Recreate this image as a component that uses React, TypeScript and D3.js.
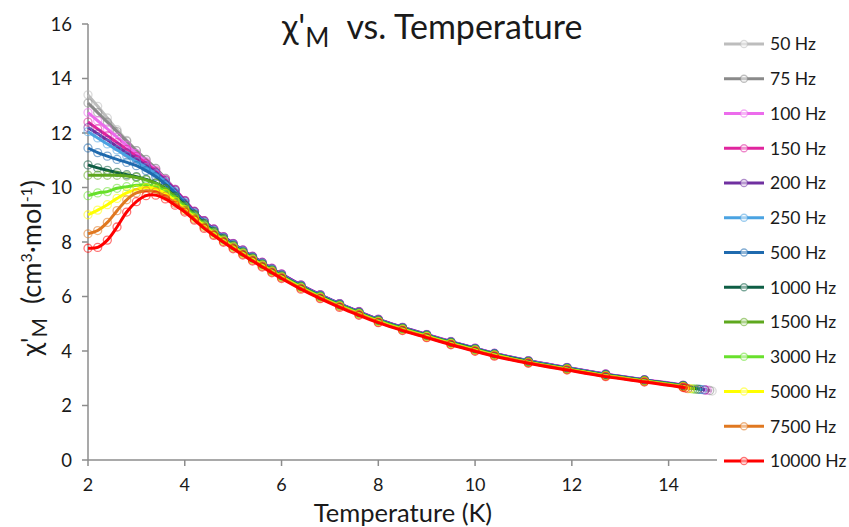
import React from 'react';
import * as d3 from 'd3';

// Temperature (K) sampling shared by all series
const temperatures = [2.0, 2.2, 2.4, 2.6, 2.8, 3.0, 3.2, 3.4, 3.6, 3.8, 4.0, 4.2, 4.4, 4.6, 4.8, 5.0, 5.2, 5.4, 5.6, 5.8, 6.0, 6.4, 6.8, 7.2, 7.6, 8.0, 8.5, 9.0, 9.5, 10.0, 10.4, 11.1, 11.9, 12.7, 13.5, 14.3];

const frequencies = ['50 Hz', '75 Hz', '100 Hz', '150 Hz', '200 Hz', '250 Hz', '500 Hz', '1000 Hz', '1500 Hz', '3000 Hz', '5000 Hz', '7500 Hz', '10000 Hz'];
const colors = ['#BDBDBD', '#8A8A8A', '#EC6CEC', '#E0259E', '#7030A0', '#4AA3E2', '#1F6AAE', '#0E5E45', '#5EA81E', '#68E02C', '#FFFF00', '#E07820', '#FF0000'];

const chi50 = [13.4, 12.98, 12.55, 12.12, 11.73, 11.35, 11.02, 10.7, 10.33, 9.93, 9.52, 9.12, 8.77, 8.46, 8.18, 7.92, 7.68, 7.45, 7.23, 7.01, 6.8, 6.4, 6.04, 5.72, 5.43, 5.15, 4.85, 4.59, 4.33, 4.09, 3.9, 3.63, 3.38, 3.14, 2.93, 2.72];
const chi75 = [13.1, 12.75, 12.4, 12.05, 11.7, 11.35, 11.03, 10.7, 10.33, 9.93, 9.52, 9.12, 8.77, 8.46, 8.18, 7.93, 7.69, 7.46, 7.24, 7.02, 6.81, 6.41, 6.05, 5.73, 5.43, 5.15, 4.86, 4.59, 4.33, 4.09, 3.9, 3.63, 3.38, 3.14, 2.93, 2.73];
const chi100 = [12.75, 12.45, 12.15, 11.85, 11.55, 11.25, 10.95, 10.65, 10.3, 9.93, 9.53, 9.13, 8.78, 8.48, 8.2, 7.95, 7.71, 7.48, 7.26, 7.04, 6.83, 6.43, 6.07, 5.74, 5.45, 5.17, 4.87, 4.61, 4.35, 4.11, 3.92, 3.65, 3.4, 3.16, 2.95, 2.75];
const chi150 = [12.4, 12.15, 11.9, 11.65, 11.4, 11.14, 10.88, 10.6, 10.28, 9.92, 9.52, 9.12, 8.78, 8.47, 8.19, 7.94, 7.7, 7.47, 7.25, 7.03, 6.82, 6.42, 6.06, 5.73, 5.44, 5.16, 4.86, 4.6, 4.34, 4.1, 3.91, 3.64, 3.39, 3.15, 2.94, 2.74];
const chi200 = [12.2, 11.97, 11.74, 11.5, 11.27, 11.04, 10.8, 10.55, 10.25, 9.9, 9.5, 9.11, 8.77, 8.47, 8.19, 7.94, 7.7, 7.47, 7.25, 7.03, 6.82, 6.42, 6.06, 5.74, 5.44, 5.16, 4.87, 4.6, 4.34, 4.1, 3.91, 3.64, 3.39, 3.15, 2.94, 2.74];
const chi250 = [12.05, 11.82, 11.6, 11.38, 11.16, 10.95, 10.73, 10.5, 10.2, 9.85, 9.45, 9.07, 8.73, 8.43, 8.16, 7.91, 7.67, 7.44, 7.22, 7.0, 6.79, 6.4, 6.04, 5.72, 5.42, 5.14, 4.85, 4.59, 4.33, 4.09, 3.9, 3.63, 3.38, 3.14, 2.93, 2.73];
const chi500 = [11.45, 11.28, 11.15, 11.03, 10.92, 10.8, 10.62, 10.4, 10.12, 9.8, 9.42, 9.04, 8.7, 8.41, 8.14, 7.89, 7.65, 7.43, 7.2, 6.98, 6.77, 6.38, 6.02, 5.7, 5.41, 5.13, 4.84, 4.58, 4.32, 4.08, 3.89, 3.62, 3.37, 3.13, 2.93, 2.73];
const chi1000 = [10.83, 10.72, 10.63, 10.55, 10.47, 10.4, 10.3, 10.17, 9.97, 9.68, 9.35, 9.01, 8.68, 8.39, 8.12, 7.87, 7.63, 7.41, 7.19, 6.97, 6.76, 6.37, 6.01, 5.69, 5.4, 5.12, 4.83, 4.57, 4.31, 4.07, 3.88, 3.61, 3.36, 3.12, 2.92, 2.72];
const chi1500 = [10.45, 10.45, 10.45, 10.45, 10.42, 10.37, 10.28, 10.15, 9.95, 9.65, 9.32, 8.99, 8.66, 8.37, 8.11, 7.86, 7.62, 7.4, 7.18, 6.96, 6.75, 6.36, 6.0, 5.68, 5.39, 5.11, 4.82, 4.56, 4.3, 4.06, 3.87, 3.6, 3.35, 3.11, 2.91, 2.71];
const chi3000 = [9.7, 9.8, 9.85, 9.97, 10.03, 10.08, 10.1, 10.03, 9.85, 9.57, 9.26, 8.94, 8.62, 8.34, 8.08, 7.84, 7.6, 7.38, 7.16, 6.94, 6.73, 6.34, 5.99, 5.67, 5.38, 5.1, 4.81, 4.55, 4.29, 4.05, 3.86, 3.59, 3.34, 3.1, 2.9, 2.7];
const chi5000 = [9.0, 9.17, 9.37, 9.6, 9.8, 9.93, 10.0, 9.95, 9.78, 9.5, 9.2, 8.89, 8.58, 8.3, 8.05, 7.81, 7.58, 7.36, 7.14, 6.92, 6.71, 6.32, 5.97, 5.65, 5.36, 5.08, 4.79, 4.53, 4.27, 4.03, 3.85, 3.58, 3.33, 3.09, 2.89, 2.69];
const chi7500 = [8.3, 8.42, 8.72, 9.15, 9.55, 9.8, 9.88, 9.84, 9.68, 9.42, 9.15, 8.84, 8.54, 8.27, 8.02, 7.78, 7.55, 7.33, 7.11, 6.9, 6.69, 6.3, 5.95, 5.63, 5.34, 5.06, 4.77, 4.51, 4.25, 4.01, 3.83, 3.57, 3.32, 3.08, 2.88, 2.68];
const chi10000 = [7.77, 7.8, 8.07, 8.55, 9.1, 9.48, 9.7, 9.72, 9.58, 9.35, 9.1, 8.8, 8.5, 8.24, 7.99, 7.75, 7.52, 7.3, 7.08, 6.87, 6.66, 6.27, 5.92, 5.6, 5.31, 5.04, 4.75, 4.49, 4.23, 3.99, 3.81, 3.55, 3.3, 3.06, 2.86, 2.66];

// last measured point of each series
const endTemps = [14.9, 14.85, 14.8, 14.75, 14.75, 14.7, 14.65, 14.6, 14.55, 14.5, 14.45, 14.4, 14.35];
const endChi = [2.53, 2.55, 2.56, 2.57, 2.57, 2.58, 2.59, 2.6, 2.6, 2.61, 2.62, 2.62, 2.64];

const xTicks = [2, 4, 6, 8, 10, 12, 14];
const yTicks = [0, 2, 4, 6, 8, 10, 12, 14, 16];

const allChi = [chi50, chi75, chi100, chi150, chi200, chi250, chi500, chi1000, chi1500, chi3000, chi5000, chi7500, chi10000];

const FONT = 'Lato, "Open Sans", sans-serif';

export default function App() {
  const W = 849;
  const H = 527;
  const x = d3.scaleLinear().domain([2, 15]).range([88, 717]);
  const y = d3.scaleLinear().domain([0, 16]).range([460, 24]);

  const series = frequencies.map((name, i) => ({
    name,
    color: colors[i],
    pts: temperatures.map((t, j) => [t, allChi[i][j]] as [number, number]).concat([[endTemps[i], endChi[i]]]),
  }));

  const line = d3
    .line<[number, number]>()
    .x((d) => x(d[0]))
    .y((d) => y(d[1]))
    .curve(d3.curveCatmullRom.alpha(0.5));

  const axisColor = '#8C8C8C';
  const textColor = '#1a1a1a';
  const legendX = 724;
  const legendY0 = 44;
  const legendStep = 34.75;

  return (
    <svg width={W} height={H} style={{ position: 'absolute', left: 0, top: 0, background: '#fff' }} fontFamily={FONT}>
      <rect x={0} y={0} width={W} height={H} fill="#fff" />
      {/* axes */}
      <line x1={x(2)} x2={x(2)} y1={y(16)} y2={y(0)} stroke={axisColor} strokeWidth={1.5} />
      <line x1={x(2)} x2={x(15)} y1={y(0)} y2={y(0)} stroke={axisColor} strokeWidth={1.5} />
      {yTicks.map((t) => (
        <g key={'y' + t}>
          <line x1={x(2) - 6} x2={x(2)} y1={y(t)} y2={y(t)} stroke={axisColor} strokeWidth={1.5} />
          <text x={x(2) - 16} y={y(t)} dy="0.36em" textAnchor="end" fontSize={18.5} fill={textColor}>
            {t}
          </text>
        </g>
      ))}
      {xTicks.map((t) => (
        <g key={'x' + t}>
          <line x1={x(t)} x2={x(t)} y1={y(0)} y2={y(0) + 6} stroke={axisColor} strokeWidth={1.5} />
          <text x={x(t)} y={y(0) + 31} textAnchor="middle" fontSize={18} fill={textColor}>
            {t}
          </text>
        </g>
      ))}
      {/* series */}
      {series.map((s) => (
        <g key={s.name}>
          <path d={line(s.pts) || ''} fill="none" stroke={s.color} strokeWidth={3} strokeLinejoin="round" />
          {s.pts.map((p, j) => (
            <circle key={j} cx={x(p[0])} cy={y(p[1])} r={4} fill="none" stroke={s.color} strokeOpacity={0.55} strokeWidth={1.3} />
          ))}
        </g>
      ))}
      {/* title */}
      <text x={282} y={39} textAnchor="start" fontSize={34} fill={textColor}>
        <tspan>χ'</tspan>
        <tspan dy={8} fontSize={26}>M</tspan>
        <tspan dy={-8} dx={17}>vs. Temperature</tspan>
      </text>
      {/* axis titles */}
      <text x={403} y={522} textAnchor="middle" fontSize={25.5} fill={textColor}>
        Temperature (K)
      </text>
      <text transform={`translate(41, 356) rotate(-90)`} textAnchor="start" fontSize={27} fill={textColor}>
        <tspan>χ'</tspan>
        <tspan dy={6} fontSize={21}>M</tspan>
        <tspan dy={-6} dx={14}>(cm</tspan>
        <tspan dy={-9} fontSize={16}>3</tspan>
        <tspan dy={9}>·mol</tspan>
        <tspan dy={-9} fontSize={16}>-1</tspan>
        <tspan dy={9}>)</tspan>
      </text>
      {/* legend */}
      {series.map((s, i) => {
        const ly = legendY0 + i * legendStep;
        return (
          <g key={'lg' + s.name}>
            <line x1={legendX} x2={legendX + 40} y1={ly} y2={ly} stroke={s.color} strokeWidth={3} />
            <circle cx={legendX + 20} cy={ly} r={3.5} fill="#fff" fillOpacity={0.5} stroke={s.color} strokeOpacity={0.55} strokeWidth={1.3} />
            <text x={legendX + 46} y={ly} dy="0.36em" fontSize={17.5} fill={textColor}>
              {s.name}
            </text>
          </g>
        );
      })}
    </svg>
  );
}
